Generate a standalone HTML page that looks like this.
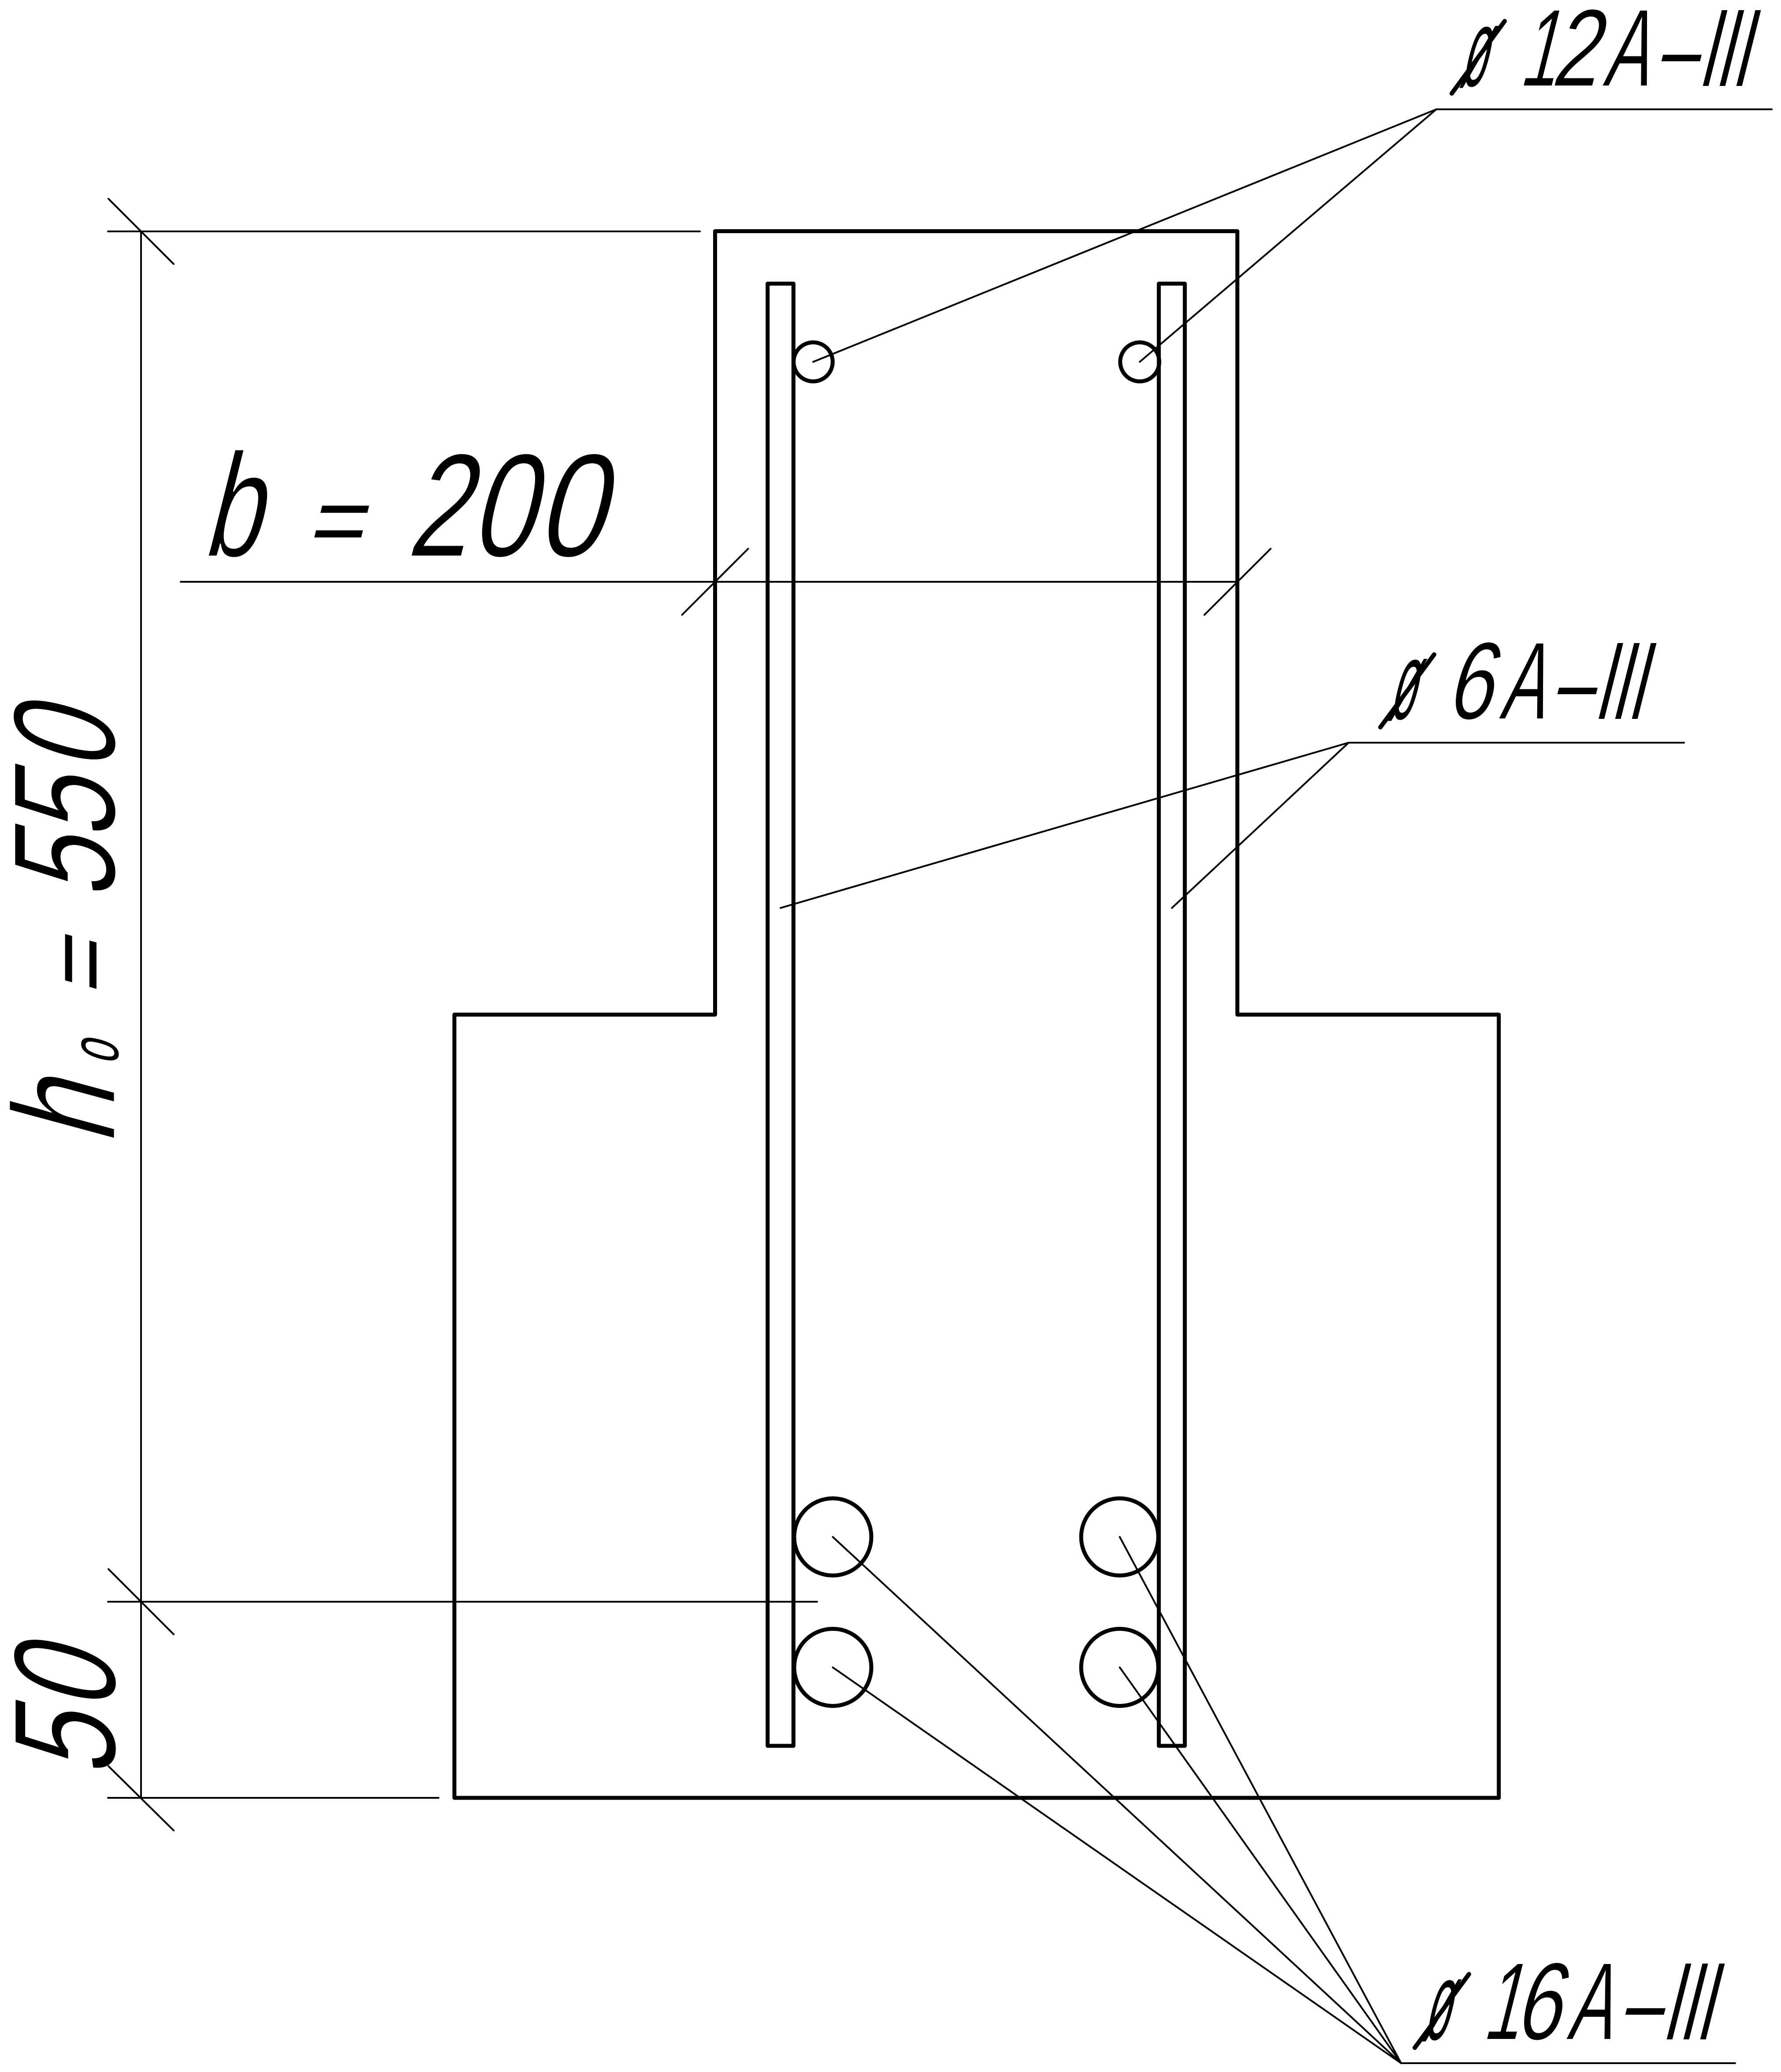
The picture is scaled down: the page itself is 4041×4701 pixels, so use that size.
<!DOCTYPE html>
<html><head><meta charset="utf-8"><title>Section</title>
<style>
html,body{margin:0;padding:0;background:#fff}
svg{display:block}
text{font-family:"Liberation Sans",sans-serif;fill:#000;stroke:#fff}
.s{font-size:250px;stroke-width:2px}.b{font-size:334px;stroke-width:3px}.r{font-size:330px;stroke-width:3px}
.n{stroke:none}
</style></head><body>
<svg xmlns="http://www.w3.org/2000/svg" width="4041" height="4701" viewBox="0 0 4041 4701">
<rect width="4041" height="4701" fill="#fff"/>

<!-- ø 12A–III -->
<text class="s n" transform="matrix(.385 0 -.25 1 3310 195)">ø</text>
<text class="s" transform="matrix(.6 0 -.25 1 3445 195)">1</text>
<text class="s" transform="matrix(.76 0 -.25 1 3517 195)">2</text>
<text class="s" transform="matrix(.615 0 -.25 1 3635 195)">A</text>
<text class="s" transform="matrix(.64 0 -.25 1 3755 195)">–</text>
<text class="s n" transform="matrix(.55 0 -.25 1 3851 195)">I</text>
<text class="s n" transform="matrix(.55 0 -.25 1 3889 195)">I</text>
<text class="s n" transform="matrix(.55 0 -.25 1 3927 195)">I</text>

<!-- ø 6A–III -->
<text class="s n" transform="matrix(.385 0 -.25 1 3148 1631)">ø</text>
<text class="s" transform="matrix(.74 0 -.25 1 3279 1631)">6</text>
<text class="s" transform="matrix(.61 0 -.25 1 3400 1631)">A</text>
<text class="s" transform="matrix(.64 0 -.25 1 3519 1631)">–</text>
<text class="s n" transform="matrix(.55 0 -.25 1 3614.5 1631)">I</text>
<text class="s n" transform="matrix(.55 0 -.25 1 3652 1631)">I</text>
<text class="s n" transform="matrix(.55 0 -.25 1 3690 1631)">I</text>

<!-- ø 16A–III -->
<text class="s n" transform="matrix(.385 0 -.25 1 3226 4627)">ø</text>
<text class="s" transform="matrix(.6 0 -.25 1 3362 4627)">1</text>
<text class="s" transform="matrix(.74 0 -.25 1 3434 4627)">6</text>
<text class="s" transform="matrix(.61 0 -.25 1 3553 4627)">A</text>
<text class="s" transform="matrix(.64 0 -.25 1 3673 4627)">–</text>
<text class="s n" transform="matrix(.55 0 -.25 1 3769 4627)">I</text>
<text class="s n" transform="matrix(.55 0 -.25 1 3807 4627)">I</text>
<text class="s n" transform="matrix(.55 0 -.25 1 3845 4627)">I</text>

<!-- b = 200 -->
<text class="b" transform="matrix(.7 0 -.25 1 457 1262)">b</text>
<text class="b n" transform="matrix(.656 0 -.167 .67 693 1257)">=</text>
<text class="b" transform="matrix(.75 0 -.25 1 920 1262)">2</text>
<text class="b" transform="matrix(.78 0 -.25 1 1063 1262)">0</text>
<text class="b" transform="matrix(.83 0 -.25 1 1213 1262)">0</text>

<!-- h₀ = 550 -->
<g transform="translate(260 3000) rotate(-90)">
<text class="r" transform="matrix(.75 0 -.27 1 400 0)">h</text>
<text class="n" transform="matrix(.59 0 -.27 1 583 8)" font-size="156">o</text>
<text class="r n" transform="matrix(.656 0 -.18 .67 736 -4)">=</text>
<text class="r" transform="matrix(.74 0 -.27 1 956 0)">5</text>
<text class="r" transform="matrix(.74 0 -.27 1 1092 0)">5</text>
<text class="r" transform="matrix(.72 0 -.27 1 1247 0)">0</text>
</g>

<!-- 50 -->
<g transform="translate(261 4100) rotate(-90)">
<text class="r" transform="matrix(.76 0 -.27 1 65 0)">5</text>
<text class="r" transform="matrix(.72 0 -.27 1 216 0)">0</text>
</g>

<g fill="none" stroke="#000" stroke-width="9" stroke-linejoin="round">
<path d="M1622.5 524.5H2807.5V2302H3400.7V4079H1031V2302H1622.5Z"/>
<path d="M1741.7 643.5H1800.3V3961H1741.7Z"/>
<path d="M2629.3 643.5H2688.3V3961H2629.3Z"/>
<circle cx="1845" cy="821" r="44.3"/>
<circle cx="2586" cy="821" r="44.3"/>
<circle cx="1889.5" cy="3487" r="87.5"/>
<circle cx="1889.5" cy="3783" r="87.5"/>
<circle cx="2540.6" cy="3487" r="87.5"/>
<circle cx="2540.6" cy="3783" r="87.5"/>
</g>
<g fill="none" stroke="#000" stroke-width="4" stroke-linecap="round" stroke-linejoin="miter">
<path d="M245 525H1588"/>
<path d="M245 3634H1854"/>
<path d="M245 4079H995"/>
<path d="M320 525V4079"/>
<path d="M246 451L394 599"/>
<path d="M246 3560L394 3708"/>
<path d="M246 4007L394 4153"/>
<path d="M410 1320H2807.5"/>
<path d="M1547.5 1395L1697.5 1245"/>
<path d="M2732.7 1395L2883 1245"/>
<path d="M1845 821L3259 248H4020"/>
<path d="M2586 821L3259 248"/>
<path d="M1771 2060L3060 1685H3821"/>
<path d="M2659 2060L3060 1685"/>
<path d="M1889.5 3487L3179 4681H3937"/>
<path d="M1889.5 3783L3179 4681"/>
<path d="M2540.6 3487L3179 4681"/>
<path d="M2540.6 3783L3179 4681"/>
</g>
<g stroke="#000" stroke-width="10" stroke-linecap="round">
<path d="M3294 212L3414 48"/>
<path d="M3132 1650L3254 1485"/>
<path d="M3210 4646L3333 4479"/>
</g>
</svg>
</body></html>
